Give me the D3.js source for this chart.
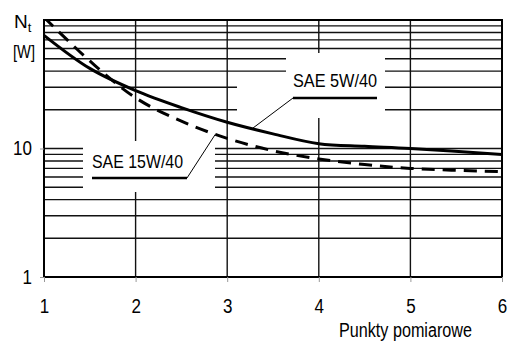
<!DOCTYPE html>
<html>
<head>
<meta charset="utf-8">
<script src="https://cdn.jsdelivr.net/npm/d3@7"></script>
<style>
  html, body { margin: 0; padding: 0; background: #fff; }
  svg { display: block; }
  text { font-family: "Liberation Sans", Arial, sans-serif; fill: #000; }
</style>
</head>
<body>
<svg id="chart" width="509" height="347"></svg>
<script>
// Measurement points and power loss N_t [W] for both oils
const points   = [1, 1.5, 2, 2.5, 3, 3.5, 4, 4.5, 5, 6];
const sae5w40  = [76, 42, 28.2, 20.8, 16.0, 13.0, 10.9, 10.4, 10.0, 9.0];
const sae15w40 = [105, 48, 24.8, 16.3, 12.0, 9.6, 8.3, 7.5, 7.0, 6.6];

const xTicks = [1, 2, 3, 4, 5, 6];
const yTicks = [1, 10];
const yGrid  = [2, 3, 4, 5, 6, 7, 8, 9, 10, 20, 30, 40, 50, 60, 70, 80, 90];
const xGrid  = [2, 3, 4, 5];

(function () {
const svg = d3.select("#chart");
const pL = 44, pR = 502, pT = 20, pB = 277;

const x = d3.scaleLinear().domain([1, 6]).range([pL, pR]);
const y = d3.scaleLog().domain([1, 100]).range([pB, pT]);

// grid
const grid = svg.append("g").attr("stroke", "#111").attr("stroke-width", 1.4);
grid.selectAll("line.h").data(yGrid).join("line")
  .attr("x1", pL).attr("x2", pR)
  .attr("y1", d => y(d)).attr("y2", d => y(d));
grid.selectAll("line.v").data(xGrid).join("line")
  .attr("y1", pT).attr("y2", pB)
  .attr("x1", d => x(d)).attr("x2", d => x(d));

// blank areas behind the curve labels
svg.append("rect").attr("x", 83).attr("y", 141).attr("width", 132).attr("height", 51).attr("fill", "#fff");
svg.append("path").attr("d", "M286,53H385V118H237V80H286Z").attr("fill", "#fff");

// frame
svg.append("rect").attr("x", pL).attr("y", pT)
  .attr("width", pR - pL).attr("height", pB - pT)
  .attr("fill", "none").attr("stroke", "#000").attr("stroke-width", 2);

// axes
const narrow = (sel, k) => sel.each(function () {
  const w = this.getComputedTextLength();
  d3.select(this).attr("textLength", w * k).attr("lengthAdjust", "spacingAndGlyphs");
});

const ax = svg.append("g").attr("transform", `translate(0,${pB})`)
  .call(d3.axisBottom(x).tickValues(xTicks).tickSize(5).tickPadding(17).tickFormat(d3.format("d")));
const ay = svg.append("g").attr("transform", `translate(${pL},0)`)
  .call(d3.axisLeft(y).tickValues(yTicks).tickSize(4).tickPadding(8).tickFormat(d3.format("d")));
[ax, ay].forEach(a => {
  a.select(".domain").remove();
  a.selectAll(".tick line").attr("stroke", "#999").attr("stroke-width", 1);
  a.selectAll(".tick text").attr("font-size", 20).attr("font-family", "Liberation Sans, Arial, sans-serif").attr("fill", "#000");
  narrow(a.selectAll(".tick text"), 0.85);
});

// axis titles
svg.append("text").attr("x", 339).attr("y", 337).attr("font-size", 20)
  .attr("textLength", 133).attr("lengthAdjust", "spacingAndGlyphs").text("Punkty pomiarowe");
const nt = svg.append("text").attr("x", 14).attr("y", 28).attr("font-size", 19);
nt.append("tspan").text("N");
nt.append("tspan").attr("font-size", 13).attr("dy", 4).text("t");
svg.append("text").attr("x", 13).attr("y", 58).attr("font-size", 19)
  .attr("textLength", 22).attr("lengthAdjust", "spacingAndGlyphs").text("[W]");

// curves
const line = d3.line().x(d => x(d[0])).y(d => y(d[1])).curve(d3.curveCatmullRom.alpha(0.5));
svg.append("clipPath").attr("id", "plot").append("rect")
  .attr("x", pL).attr("y", pT).attr("width", pR - pL).attr("height", pB - pT);

const solid = svg.append("path")
  .datum(points.map((p, i) => [p, sae5w40[i]]))
  .attr("clip-path", "url(#plot)")
  .attr("d", line).attr("fill", "none").attr("stroke", "#000").attr("stroke-width", 3);
const dashed = svg.append("path")
  .datum(points.map((p, i) => [p, sae15w40[i]]))
  .attr("clip-path", "url(#plot)")
  .attr("d", line).attr("fill", "none").attr("stroke", "#000").attr("stroke-width", 3)
  .attr("stroke-dasharray", "13,8");

// y pixel of a path at a given x pixel
function yAt(path, px) {
  const node = path.node(), len = node.getTotalLength();
  let lo = 0, hi = len;
  for (let k = 0; k < 40; k++) {
    const mid = (lo + hi) / 2;
    if (node.getPointAtLength(mid).x < px) lo = mid; else hi = mid;
  }
  return node.getPointAtLength(lo).y;
}

// SAE 5W/40
svg.append("text").attr("x", 293).attr("y", 87).attr("font-size", 19)
  .attr("textLength", 84).attr("lengthAdjust", "spacingAndGlyphs").text("SAE 5W/40");
svg.append("line").attr("x1", 293).attr("x2", 377).attr("y1", 98).attr("y2", 98)
  .attr("stroke", "#000").attr("stroke-width", 2.5);
const a5x = x(3.27);
svg.append("line").attr("x1", 293).attr("y1", 98).attr("x2", a5x).attr("y2", yAt(solid, a5x))
  .attr("stroke", "#000").attr("stroke-width", 1);

// SAE 15W/40
svg.append("text").attr("x", 92).attr("y", 168).attr("font-size", 19)
  .attr("textLength", 91).attr("lengthAdjust", "spacingAndGlyphs").text("SAE 15W/40");
svg.append("line").attr("x1", 92).attr("x2", 187).attr("y1", 178).attr("y2", 178)
  .attr("stroke", "#000").attr("stroke-width", 2.5);
const a15x = x(2.87);
svg.append("line").attr("x1", 187).attr("y1", 178).attr("x2", a15x).attr("y2", yAt(dashed, a15x))
  .attr("stroke", "#000").attr("stroke-width", 1);
})();
</script>
</body>
</html>
